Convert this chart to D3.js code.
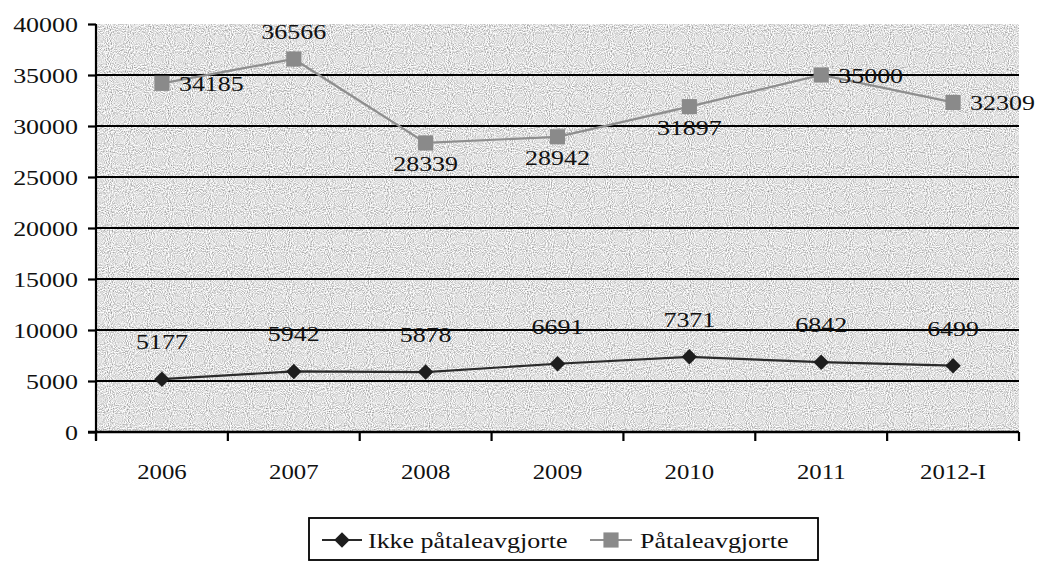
<!DOCTYPE html>
<html><head><meta charset="utf-8">
<script src="https://cdn.jsdelivr.net/npm/d3@7"></script>
<style>
html,body{margin:0;padding:0;background:#fff;}
svg{display:block;}
text{font-family:"Liberation Serif","Times New Roman",serif;fill:#111;}
</style></head>
<body>
<svg id="c" width="1040" height="561"></svg>
<script>
const categories = ["2006","2007","2008","2009","2010","2011","2012-I"];
const ikkeValues = [5177,5942,5878,6691,7371,6842,6499];
const pataleValues = [34185,36566,28339,28942,31897,35000,32309];
const yTicks = [0,5000,10000,15000,20000,25000,30000,35000,40000];
const seriesNames = ["Ikke påtaleavgjorte","Påtaleavgjorte"];
// label placement for Påtaleavgjorte: r = right, a = above, b = below
const pataleLabelPos = ["r","a","b","b","b","r","r"];

const svg = d3.select("#c");
const L = 96, R = 1019, T = 24, B = 432;
const SX = 1.18;

const x = d3.scaleBand().domain(categories).range([L,R]).paddingInner(0).paddingOuter(0);
const y = d3.scaleLinear().domain([0,40000]).range([B,T]);
const cx = d => x(d) + x.bandwidth()/2;

function txt(g, px, py, s, size, anchor){
  return g.append("text")
    .attr("transform",`translate(${px},${py}) scale(${SX},1)`)
    .attr("text-anchor",anchor||"middle")
    .style("font-size",size+"px")
    .text(s);
}

// texture filter for the plot background
const defs = svg.append("defs");
const f = defs.append("filter").attr("id","grain")
  .attr("x",0).attr("y",0).attr("width",1).attr("height",1);
f.append("feTurbulence").attr("type","fractalNoise").attr("baseFrequency",0.95).attr("numOctaves",1).attr("seed",3).attr("result","n");
f.append("feColorMatrix").attr("in","n").attr("type","matrix")
  .attr("values","1.5 0 0 0 0.0  1.5 0 0 0 0.0  1.5 0 0 0 0.0  0 0 0 0 1");

// plot background
svg.append("rect").attr("x",L).attr("y",T).attr("width",R-L).attr("height",B-T).attr("fill","#c4c4c4");
svg.append("rect").attr("x",L).attr("y",T).attr("width",R-L).attr("height",B-T).attr("fill","#c4c4c4").attr("filter","url(#grain)");

// gridlines
svg.append("g").selectAll("line").data(yTicks.filter(v=>v>0 && v<40000)).join("line")
  .attr("x1",L).attr("x2",R).attr("y1",d=>y(d)).attr("y2",d=>y(d))
  .attr("stroke","#000").attr("stroke-width",2.2);

// y axis
const yAxis = d3.axisLeft(y).tickValues(yTicks).tickSize(8).tickFormat("");
const gy = svg.append("g").attr("transform",`translate(${L},0)`).call(yAxis);
gy.select(".domain").attr("d",`M0,${T}V${B+8}`).attr("stroke","#000").attr("stroke-width",2.2);
gy.selectAll(".tick line").attr("stroke","#000").attr("stroke-width",2.2);
const gyl = svg.append("g");
yTicks.forEach(v=>txt(gyl, 78, y(v)+7.5, String(v), 22, "end"));

// x axis
const boundaries = categories.map(c=>x(c)).concat([R]);
const gx = svg.append("g");
gx.append("line").attr("x1",L-8).attr("x2",R).attr("y1",B).attr("y2",B).attr("stroke","#000").attr("stroke-width",2.5);
gx.selectAll("line.t").data(boundaries).join("line").attr("class","t")
  .attr("x1",d=>d).attr("x2",d=>d).attr("y1",B).attr("y2",B+9).attr("stroke","#000").attr("stroke-width",2.2);
categories.forEach(c=>txt(gx, cx(c), 479, c, 21, "middle"));

// lines
const line = d3.line().x((d,i)=>cx(categories[i])).y(d=>y(d));
svg.append("path").datum(pataleValues).attr("d",line).attr("fill","none").attr("stroke","#8e8e8e").attr("stroke-width",2.2);
svg.append("path").datum(ikkeValues).attr("d",line).attr("fill","none").attr("stroke","#2a2a2a").attr("stroke-width",2.2);

// markers
const sq = d3.symbol().type(d3.symbolSquare).size(230);
const dia = d3.symbol().type(d3.symbolSquare).size(120);
svg.append("g").selectAll("path").data(pataleValues).join("path")
  .attr("d",sq).attr("transform",(d,i)=>`translate(${cx(categories[i])},${y(d)})`).attr("fill","#8a8a8a");
svg.append("g").selectAll("path").data(ikkeValues).join("path")
  .attr("d",dia).attr("transform",(d,i)=>`translate(${cx(categories[i])},${y(d)}) rotate(45)`).attr("fill","#1e1e1e");

// data labels
const gl = svg.append("g");
ikkeValues.forEach((v,i)=>txt(gl, cx(categories[i]), y(v)-30, String(v), 22, "middle"));
pataleValues.forEach((v,i)=>{
  const px = cx(categories[i]), py = y(v), p = pataleLabelPos[i];
  if(p==="r") txt(gl, px+17, py+8, String(v), 22, "start");
  else if(p==="a") txt(gl, px, py-20, String(v), 22, "middle");
  else txt(gl, px, py+28, String(v), 22, "middle");
});

// legend
const lg = svg.append("g");
lg.append("rect").attr("x",309).attr("y",518).attr("width",509).attr("height",42)
  .attr("fill","#fff").attr("stroke","#000").attr("stroke-width",1.8);
const ly = 540;
lg.append("line").attr("x1",322).attr("x2",362).attr("y1",ly).attr("y2",ly).attr("stroke","#2a2a2a").attr("stroke-width",2);
lg.append("path").attr("d",dia).attr("transform",`translate(342,${ly}) rotate(45)`).attr("fill","#1e1e1e");
txt(lg, 368, ly+8, seriesNames[0], 22, "start");
lg.append("line").attr("x1",590).attr("x2",632).attr("y1",ly).attr("y2",ly).attr("stroke","#8e8e8e").attr("stroke-width",2);
lg.append("path").attr("d",sq).attr("transform",`translate(611,${ly})`).attr("fill","#8a8a8a");
txt(lg, 640, ly+8, seriesNames[1], 22, "start");
</script>
</body></html>
